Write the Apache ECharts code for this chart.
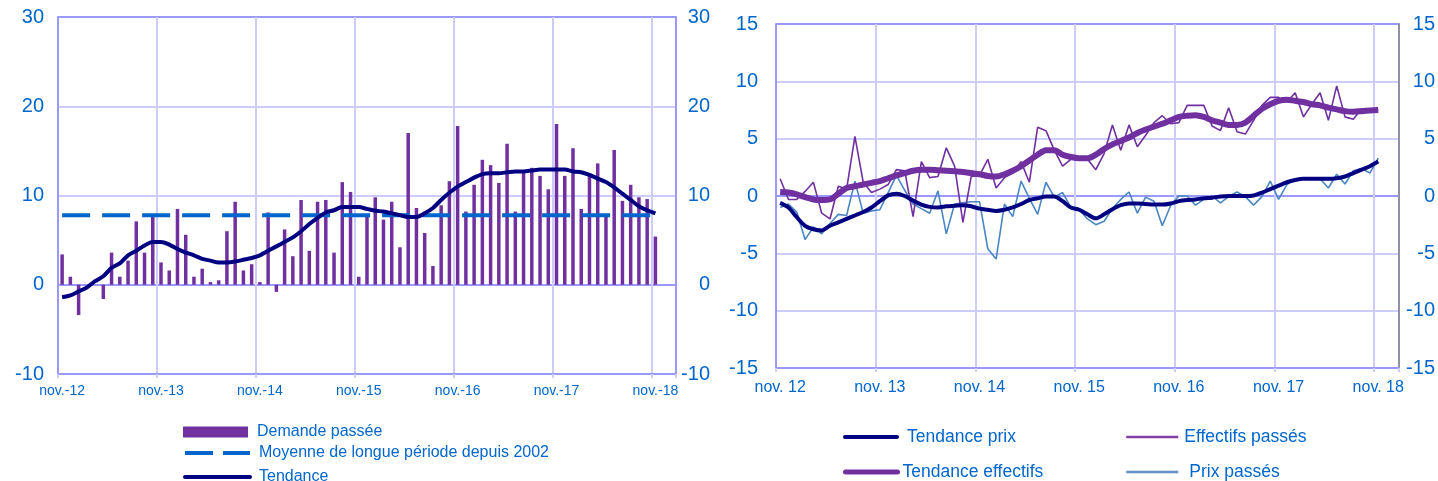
<!DOCTYPE html>
<html>
<head>
<meta charset="utf-8">
<script src="https://cdn.jsdelivr.net/npm/echarts@6.0.0/dist/echarts.min.js"></script>
<style>
html,body{margin:0;padding:0;background:#ffffff;}
#chart{width:1438px;height:481px;}
</style>
</head>
<body>
<div id="chart"></div>
<script>
// ---------- DATA ----------
// monthly categories: nov. 2012 -> jan. 2019 (75 months, data through nov. 2018)
const startYear = 2012, startMonth = 10, monthCount = 75;
const categories = [];
for (let k = 0; k < monthCount; k++) {
  const m = (startMonth + k) % 12, y = startYear + Math.floor((startMonth + k) / 12);
  categories.push(y + '-' + String(m + 1).padStart(2, '0'));
}
const tickLabelsLeft = ['nov.-12','nov.-13','nov.-14','nov.-15','nov.-16','nov.-17','nov.-18'];
const tickLabelsRight = ['nov. 12','nov. 13','nov. 14','nov. 15','nov. 16','nov. 17','nov. 18'];

const demandePassee = [
  3.4, 0.9, -3.4, 0, 0, -1.6, 3.6, 0.9, 2.7, 7.1, 3.6, 7.6,
  2.5, 1.6, 8.5, 5.6, 0.9, 1.8, 0.3, 0.5, 6.0, 9.3, 1.6, 2.3,
  0.3, 8.1, -0.8, 6.2, 3.2, 9.5, 3.8, 9.3, 9.5, 3.6, 11.5, 10.4,
  0.9, 7.6, 9.8, 7.3, 9.3, 4.2, 17.0, 8.6, 5.8, 2.1, 8.9, 11.6,
  17.8, 8.2, 11.2, 14.0, 13.4, 11.4, 15.8, 8.2, 12.6, 13.1, 12.2, 10.7,
  18.0, 12.2, 15.3, 8.5, 12.5, 13.6, 7.9, 15.1, 9.4, 11.2, 9.8, 9.6,
  5.4
];
const moyenneLonguePeriode = 7.8;
const moyenneSpan = [0, 72]; // first and last month index of the data
const tendance = [
  -1.4, -1.2, -0.75, -0.3, 0.4, 0.95, 1.9, 2.4, 3.3, 3.8, 4.4, 4.8,
  4.8, 4.5, 4.0, 3.6, 3.3, 2.9, 2.7, 2.5, 2.5, 2.6, 2.8, 3.0,
  3.3, 3.8, 4.3, 4.8, 5.3, 6.0, 6.8, 7.5, 8.1, 8.35, 8.7, 8.7,
  8.7, 8.5, 8.3, 8.2, 8.0, 7.8, 7.6, 7.6, 8.0, 8.6, 9.5, 10.3,
  11.0, 11.5, 12.0, 12.4, 12.5, 12.5, 12.6, 12.7, 12.7, 12.8, 12.9, 12.9,
  12.9, 12.9, 12.7, 12.6, 12.3, 11.9, 11.5, 10.9, 10.2, 9.5, 8.8, 8.35,
  8.0
];

const effectifsPasses = [
  1.5, -0.3, -0.3, 0.4, 1.2, -1.5, -2.0, 0.85, 0.6, 5.2, 1.2, 0.3,
  0.6, 1.0, 2.3, 2.2, -1.8, 3.0, 1.6, 1.7, 4.2, 2.6, -2.3, 1.7,
  1.8, 3.2, 0.7, 1.6, 2.0, 3.0, 1.2, 6.0, 5.7, 4.0, 2.6, 3.2,
  3.3, 3.2, 2.3, 3.7, 6.2, 4.0, 6.2, 4.3, 5.3, 6.4, 7.0, 6.3,
  6.4, 7.9, 7.9, 7.9, 6.1, 5.7, 7.7, 5.6, 5.4, 6.6, 7.9, 8.6,
  8.6, 8.2, 9.0, 6.9, 8.0, 9.0, 6.6, 9.6, 6.9, 6.7, 7.6, 7.6,
  7.5
];
const tendanceEffectifs = [
  0.35, 0.3, 0.15, -0.1, -0.3, -0.35, -0.3, 0.2, 0.7, 0.85, 1.0, 1.15,
  1.3, 1.55, 1.8, 2.0, 2.2, 2.3, 2.3, 2.25, 2.2, 2.15, 2.1, 2.0,
  1.9, 1.75, 1.7, 1.9, 2.2, 2.6, 3.1, 3.6, 4.0, 4.0, 3.6, 3.4,
  3.3, 3.3, 3.6, 4.1, 4.5, 4.8, 5.1, 5.5, 5.8, 6.05, 6.3, 6.6,
  6.9, 7.0, 7.05, 6.9, 6.6, 6.4, 6.2, 6.2, 6.4, 7.0, 7.6, 8.0,
  8.3, 8.4, 8.3, 8.2, 8.0, 7.9, 7.7, 7.55, 7.4, 7.35, 7.4, 7.45,
  7.5
];
const tendancePrix = [
  -0.6, -1.0, -1.85, -2.6, -2.9, -3.0, -2.6, -2.3, -2.0, -1.7, -1.4, -1.0,
  -0.45, 0.05, 0.2, 0.0, -0.4, -0.75, -0.95, -1.0, -0.9, -0.85, -0.8, -0.9,
  -1.1, -1.2, -1.3, -1.2, -1.0, -0.7, -0.35, -0.2, -0.05, -0.05, -0.45, -1.0,
  -1.2, -1.6, -1.95, -1.6, -1.15, -0.8, -0.65, -0.65, -0.7, -0.75, -0.75, -0.65,
  -0.45, -0.35, -0.3, -0.2, -0.15, -0.05, 0, 0, 0, 0.05, 0.3, 0.6,
  0.9, 1.2, 1.4, 1.5, 1.5, 1.5, 1.5, 1.55, 1.7, 2.0, 2.3, 2.6,
  3.0
];
const prixPasses = [
  -1.0, -0.7, -1.4, -3.8, -2.7, -3.3, -2.4, -1.6, -1.7, 1.3, -1.5, -1.3,
  -1.2, 0.3, 1.8, 0.5, -0.7, -1.1, -1.5, 0.45, -3.3, -0.7, -0.6, -0.5,
  -0.5, -4.6, -5.5, -0.7, -1.8, 1.3, -0.2, -1.6, 1.2, -0.1, 0.3, -1.0,
  -1.2, -2.0, -2.5, -2.2, -1.1, -0.3, 0.35, -1.5, -0.1, -0.45, -2.6, -0.85,
  0, 0, -0.8, -0.3, 0, -0.6, -0.05, 0.35, -0.05, -0.8, -0.05, 1.3,
  -0.3, 1.0, 1.5, 1.5, 1.5, 1.5, 0.7, 1.9, 1.05, 2.2, 2.4, 2.0,
  3.3
];

// ---------- STYLE ----------
const FONT = "'Liberation Sans', Arial, sans-serif";
const BLUE_TEXT = '#0066CC';
const FRAME = '#9999FF';
const GRIDC = '#CCCCFF';
const PURPLE = '#7030A0';
const NAVY = '#000080';
const DASHBLUE = '#0066CC';
const STEEL = '#4A86C2';

function xAxisCfg(gridIndex, labels, fontSize, margin) {
  return {
    gridIndex, type: 'category', data: categories, boundaryGap: true,
    axisLine: { onZero: false, lineStyle: { color: FRAME, width: 2 } },
    axisTick: { show: true, interval: 11, length: 4, lineStyle: { color: GRIDC, width: 2 } },
    axisLabel: { interval: 11, margin, color: BLUE_TEXT, fontSize, fontFamily: FONT,
      formatter: (v, i) => labels[Math.round(i / 12)] || '' },
    splitLine: { show: true, interval: 11, lineStyle: { color: GRIDC, width: 2 } }
  };
}
function yAxisCfg(gridIndex, min, max, interval, position, margin, align, splitColors, lineColor) {
  return {
    gridIndex, type: 'value', min, max, interval, position,
    axisLine: { show: true, lineStyle: { color: lineColor, width: 2 } },
    axisTick: { show: false },
    axisLabel: { margin, align, color: BLUE_TEXT, fontSize: 20, fontFamily: FONT },
    splitLine: splitColors ? { show: true, lineStyle: { color: splitColors, width: 2 } } : { show: false }
  };
}
function legendCfg(name, left, top, itemWidth, itemHeight, fontSize, padLeft, icon, lineStyle) {
  const l = {
    data: [name], left, top, orient: 'vertical', padding: 0, itemGap: 0,
    itemWidth, itemHeight,
    textStyle: { color: BLUE_TEXT, fontSize, fontFamily: FONT, padding: [0, 0, 0, padLeft] },
    selectedMode: false
  };
  if (icon) l.icon = icon;
  if (lineStyle) {
    l.lineStyle = lineStyle;
    l.itemStyle = { color: 'rgba(0,0,0,0)', borderWidth: 0, opacity: 0 };
  }
  return l;
}

const option = {
  animation: false,
  backgroundColor: '#ffffff',
  grid: [
    { left: 58, top: 17, width: 618, height: 357 },
    { left: 776, top: 24, width: 625, height: 344 }
  ],
  xAxis: [
    xAxisCfg(0, tickLabelsLeft, 14, 10),
    xAxisCfg(1, tickLabelsRight, 16, 12)
  ],
  yAxis: [
    yAxisCfg(0, -10, 30, 10, 'left', 14, 'right', [FRAME, FRAME, GRIDC, GRIDC, FRAME], FRAME),
    yAxisCfg(0, -10, 30, 10, 'right', 34, 'right', null, FRAME),
    yAxisCfg(1, -15, 15, 5, 'left', 18, 'right', [FRAME, GRIDC, GRIDC, FRAME, GRIDC, GRIDC, FRAME], FRAME),
    yAxisCfg(1, -15, 15, 5, 'right', 36, 'right', null, '#9090A8')
  ],
  legend: [
    legendCfg('Demande passée', 183, 424, 65, 11, 16, 4, 'rect'),
    legendCfg('Moyenne de longue période depuis 2002', 183, 445, 65, 14, 16, 4, null,
      { color: DASHBLUE, width: 4, type: [28, 10], cap: 'butt' }),
    legendCfg('Tendance', 183, 469, 65, 14, 16, 4, null, { color: NAVY, width: 4, cap: 'round' }),
    legendCfg('Tendance prix', 843, 428, 52, 14, 17.5, 5, null, { color: NAVY, width: 4, cap: 'round' }),
    legendCfg('Effectifs passés', 1125, 428, 52, 14, 17.5, 1, null, { color: '#8040A8', width: 2.5 }),
    legendCfg('Tendance effectifs', 843, 463, 52, 14, 17.5, 0, null, { color: PURPLE, width: 5, cap: 'round' }),
    legendCfg('Prix passés', 1125, 463, 52, 14, 17.5, 6, null, { color: '#6090C8', width: 2.5 })
  ],
  series: [
    { name: 'Demande passée', type: 'bar', xAxisIndex: 0, yAxisIndex: 0,
      data: demandePassee, barWidth: 3.5, itemStyle: { color: PURPLE } },
    { name: 'Moyenne de longue période depuis 2002', type: 'line', xAxisIndex: 0, yAxisIndex: 0,
      data: moyenneSpan.map(i => [i, moyenneLonguePeriode]), symbol: 'none',
      lineStyle: { color: DASHBLUE, width: 4, type: [28, 12] }, itemStyle: { color: DASHBLUE } },
    { name: 'Tendance', type: 'line', xAxisIndex: 0, yAxisIndex: 0,
      data: tendance, smooth: 0.3, symbol: 'none',
      lineStyle: { color: NAVY, width: 4 }, itemStyle: { color: NAVY } },

    { name: 'Prix passés', type: 'line', xAxisIndex: 1, yAxisIndex: 2,
      data: prixPasses, symbol: 'none',
      lineStyle: { color: STEEL, width: 1.6 }, itemStyle: { color: STEEL } },
    { name: 'Effectifs passés', type: 'line', xAxisIndex: 1, yAxisIndex: 2,
      data: effectifsPasses, symbol: 'none',
      lineStyle: { color: PURPLE, width: 1.6 }, itemStyle: { color: PURPLE } },
    { name: 'Tendance prix', type: 'line', xAxisIndex: 1, yAxisIndex: 2,
      data: tendancePrix, smooth: 0.3, symbol: 'none',
      lineStyle: { color: NAVY, width: 4 }, itemStyle: { color: NAVY } },
    { name: 'Tendance effectifs', type: 'line', xAxisIndex: 1, yAxisIndex: 2,
      data: tendanceEffectifs, smooth: 0.3, symbol: 'none',
      lineStyle: { color: PURPLE, width: 6 }, itemStyle: { color: PURPLE } }
  ]
};

const chart = echarts.init(document.getElementById('chart'), null, { renderer: 'canvas' });
chart.setOption(option);
</script>
</body>
</html>
